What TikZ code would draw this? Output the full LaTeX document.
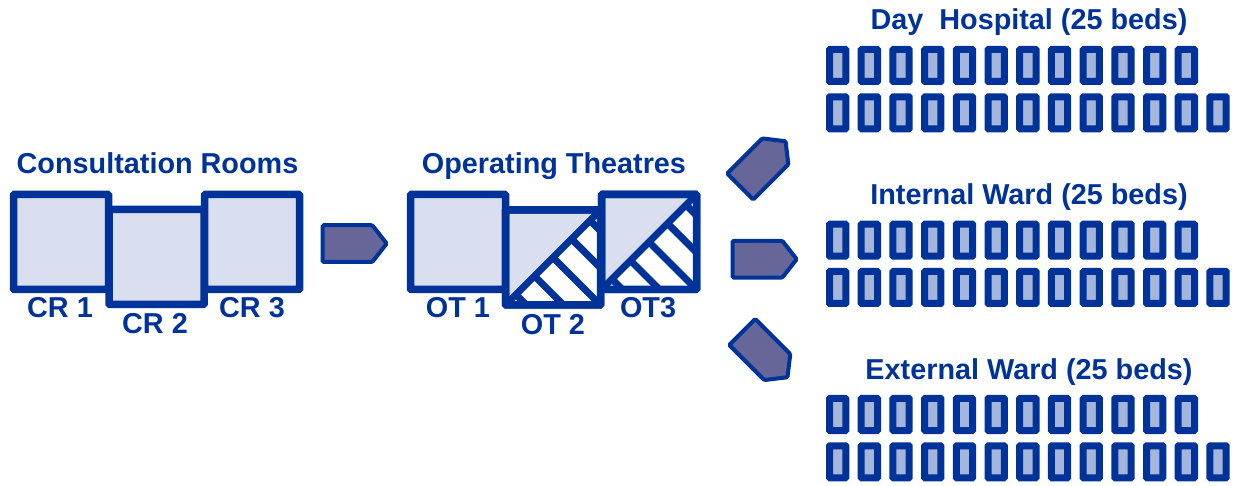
\documentclass[tikz,border=0pt]{standalone}
\usepackage{fontspec}
\setmainfont{Liberation Sans}
\usetikzlibrary{calc}
\definecolor{dblue}{RGB}{0,51,153}
\definecolor{roomfill}{RGB}{217,223,238}
\definecolor{bedin}{RGB}{166,182,219}
\definecolor{arrowfill}{RGB}{102,102,153}
\begin{document}
\begin{tikzpicture}[x=1pt,y=-1pt,
  room/.style={draw=dblue, fill=roomfill, line width=7.5pt, rounded corners=1pt,
    minimum width=95pt, minimum height=95pt, inner sep=0pt, outer sep=0pt},
  bed/.style={draw=dblue, fill=bedin, line width=7pt, rounded corners=0.6pt,
    minimum width=16.3pt, minimum height=32pt, inner sep=0pt, outer sep=0pt},
  lbl/.style={text=dblue, font=\fontsize{28.8}{32}\selectfont\bfseries, anchor=base, inner sep=0pt},
  stripe/.style={draw=dblue, line width=7pt},
  frame/.style={draw=dblue, line width=7.5pt, rounded corners=1pt},
  flow/.pic={\draw[draw=dblue, fill=arrowfill, line width=4pt, rounded corners=1.2pt]
    (0,-18.4) -- (49.6,-18.4) -- (64,0) -- (49.6,18.4) -- (0,18.4) -- cycle;}
]
\useasboundingbox (0,0) rectangle (1235,486);

% Consultation rooms
\node[lbl] (crtitle) at (157.5,173.3) {Consultation Rooms};
\node[room] (cr1) at (61,242) {};
\node[room] (cr3) at (252,242) {};
\node[room] (cr2) at (156.5,257) {};
\node[lbl] (cr1l) at (60,318) {CR 1};
\node[lbl] (cr2l) at (155,334) {CR 2};
\node[lbl] (cr3l) at (252,318) {CR 3};

% arrow 1
\pic at (322.7,243.6) {flow};

% Operating theatres
\node[lbl] (ottitle) at (554,173.3) {Operating Theatres};
\node[room] (ot1) at (458,242) {};
\node[room] (ot2) at (553,257.5) {};
\node[room] (ot3) at (649,242) {};
\foreach \n in {ot2,ot3}{
  \begin{scope}
    \clip (\n.south west) -- (\n.north east) -- (\n.south east) -- cycle;
    \fill[white] (\n.south west) rectangle (\n.north east);
    \foreach \t in {0.11,0.305,0.5,0.695,0.89}
      \draw[stripe] ($(\n.south west)!\t!(\n.north east)+(-10,-10)$) -- ++(130,130);
  \end{scope}
  \draw[stripe] (\n.south west) -- (\n.north east);
  \draw[frame] (\n.south west) rectangle (\n.north east);
}
\node[lbl] (ot1l) at (458,318) {OT 1};
\node[lbl] (ot2l) at (553,335) {OT 2};
\node[lbl] (ot3l) at (648,318) {OT3};

% arrows to wards
\pic[rotate=45] at (740.3,186.5) {flow};
\pic at (732.7,259.2) {flow};
\pic[rotate=-45] at (742.2,332) {flow};

% wards
\node[lbl] (dayt) at (1029,30) {Day~~Hospital (25 beds)};
\node[lbl] (intt) at (1029,205) {Internal Ward (25 beds)};
\node[lbl] (extt) at (1029,379.5) {External Ward (25 beds)};
\foreach \w/\yy in {d/65.5, i/240.2, e/414.5}{
  \foreach \k in {0,...,11}
    \node[bed] (\w-a-\k) at ({837.65+31.7*\k},\yy) {};
  \foreach \k in {0,...,12}
    \node[bed] (\w-b-\k) at ({837.65+31.7*\k},{\yy+47.3}) {};
}
\end{tikzpicture}
\end{document}
